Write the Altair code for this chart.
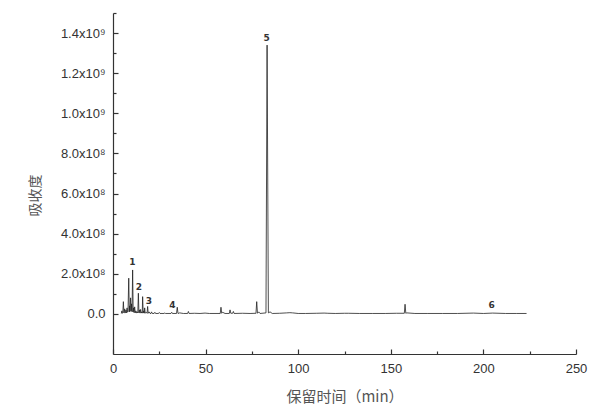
import altair as alt
import pandas as pd

# Retention time (min) and signal (units of 1e8)
rt_min = [
    4.5, 4.8, 5.0, 5.3, 5.6, 5.9, 6.1, 6.3, 6.5, 6.8,
    7.0, 7.2, 7.4, 7.6, 7.8, 8.1, 8.5, 8.8, 9.0, 9.2,
    9.5, 9.8, 10.0, 10.3, 10.6, 10.9, 11.1, 11.4, 11.7, 12.0,
    12.4, 12.7, 13.1, 13.4, 13.7, 14.0, 14.3, 14.6, 14.9, 15.2,
    15.5, 15.8, 16.0, 16.3, 16.6, 16.9, 17.1, 17.4, 17.9, 18.4,
    18.7, 19.0, 19.5, 20.0, 20.5, 20.8, 21.2, 22.2, 22.6, 23.0,
    24.6, 25.0, 25.4, 27.6, 28.0, 28.4, 31.3, 31.7, 32.1, 34.3,
    34.7, 35.1, 36.0, 38.0, 40.3, 40.7, 41.1, 44.0, 47.0, 49.7,
    52.0, 57.9, 58.3, 58.7, 59.2, 60.5, 62.8, 63.2, 63.6, 64.6,
    65.0, 65.4, 70.0, 74.0, 77.2, 77.6, 78.0, 78.7, 79.4, 82.6,
    83.2, 83.9, 84.8, 86.0, 90.0, 93.8, 95.5, 97.0, 100.0, 104.0,
    110.0, 114.0, 116.0, 120.0, 125.0, 127.0, 133.0, 140.0, 147.0, 153.0,
    157.3, 157.7, 158.1, 158.6, 163.0, 170.0, 178.0, 186.0, 194.6, 200.0,
    205.0, 212.0, 218.0, 223.3,
]
signal_e8 = [
    0.02, 0.15, 0.03, 0.05, 0.61, 0.05, 0.12, 0.25, 0.04, 0.08,
    0.20, 0.05, 0.10, 0.30, 0.08, 0.12, 1.78, 0.10, 0.40, 0.12,
    0.80, 0.15, 0.50, 0.10, 2.19, 0.10, 0.30, 0.06, 0.35, 0.05,
    0.15, 0.04, 0.10, 0.05, 1.03, 0.05, 0.20, 0.04, 0.22, 0.04,
    0.10, 0.04, 0.86, 0.04, 0.15, 0.04, 0.30, 0.03, 0.08, 0.03,
    0.37, 0.03, 0.10, 0.02, 0.02, 0.10, 0.02, 0.02, 0.08, 0.02,
    0.02, 0.07, 0.02, 0.02, 0.05, 0.02, 0.02, 0.08, 0.02, 0.02,
    0.33, 0.02, 0.05, 0.02, 0.02, 0.12, 0.02, 0.03, 0.02, 0.04,
    0.02, 0.02, 0.33, 0.03, 0.08, 0.02, 0.02, 0.20, 0.03, 0.03,
    0.12, 0.02, 0.03, 0.02, 0.03, 0.61, 0.03, 0.10, 0.02, 0.05,
    13.4, 0.05, 0.10, 0.02, 0.03, 0.05, 0.06, 0.05, 0.02, 0.02,
    0.03, 0.04, 0.03, 0.02, 0.03, 0.03, 0.02, 0.02, 0.02, 0.03,
    0.03, 0.48, 0.03, 0.05, 0.02, 0.02, 0.02, 0.02, 0.04, 0.02,
    0.04, 0.02, 0.02, 0.02,
]

# Peak labels
peak_names = ["1", "2", "3", "4", "5", "6"]
peak_label_rt = [10.4, 14.0, 19.4, 32.0, 83.0, 204.4]
peak_label_e8 = [2.61, 1.35, 0.65, 0.45, 13.77, 0.45]

x_major = [0, 50, 100, 150, 200, 250]
x_minor = [25, 75, 125, 175, 225]
y_major_e8 = [0, 2, 4, 6, 8, 10, 12, 14]
y_minor_e8 = [1, 3, 5, 7, 9, 11, 13, 15]

E8 = 1e8
trace = pd.DataFrame({"rt": rt_min, "sig": [v * E8 for v in signal_e8]})
labels = pd.DataFrame({"rt": peak_label_rt, "sig": [v * E8 for v in peak_label_e8], "name": peak_names})

W, H = 463, 341
xscale = alt.Scale(domain=[0, 250], nice=False, zero=False)
yscale = alt.Scale(domain=[-2e8, 1.5e9], nice=False, zero=False)

font = "Liberation Sans"
cjk = "Noto Sans CJK SC"
axis_col = "#333333"

ylabel_expr = ("datum.value == 0 ? '0.0' : (datum.value >= 1e9 ? "
               "format(datum.value/1e9, '.1f') + 'x10⁹' : "
               "format(datum.value/1e8, '.1f') + 'x10⁸')")

line = alt.Chart(trace).mark_line(color="#222222", strokeWidth=0.8).encode(
    x=alt.X("rt:Q", scale=xscale, axis=alt.Axis(
        orient="bottom", values=x_major, ticks=False, grid=False,
        domainColor=axis_col, domainWidth=1.2,
        labelFont=font, labelFontSize=13, labelColor=axis_col, labelPadding=8,
        labelFlush=False, labelOverlap=False,
        title="保留时间（min）", titleFont=cjk, titleFontSize=15, titleFontWeight="normal",
        titleColor="#555555", titleY=42, titleBaseline="middle")),
    y=alt.Y("sig:Q", scale=yscale, axis=alt.Axis(
        orient="left", values=[v * E8 for v in y_major_e8], ticks=False, grid=False,
        domainColor=axis_col, domainWidth=1.2,
        labelExpr=ylabel_expr, labelFont=font, labelFontSize=13, labelColor=axis_col,
        labelPadding=8, labelFlush=False, labelOverlap=False,
        title="吸收度", titleFont=cjk, titleFontSize=14, titleFontWeight="normal",
        titleColor="#555555", titleX=-78, titleY=182, titleAngle=-90,
        titleAlign="center", titleBaseline="middle")),
)


def tick_axes(chart, xvals, yvals, size):
    return chart.encode(
        x=alt.X("rt:Q", scale=xscale, axis=alt.Axis(
            orient="top", offset=-H, values=xvals, labels=False, domain=False,
            grid=False, title=None, ticks=True, tickColor=axis_col, tickWidth=1.2,
            tickSize=size)),
        y=alt.Y("sig:Q", scale=yscale, axis=alt.Axis(
            orient="right", offset=-W, values=[v * E8 for v in yvals], labels=False,
            domain=False, grid=False, title=None, ticks=True, tickColor=axis_col,
            tickWidth=1.2, tickSize=size)),
    )


text = tick_axes(alt.Chart(labels).mark_text(
    font="DejaVu Sans", fontSize=9, fontWeight="bold", color="#333333",
    baseline="middle", align="center"), x_major, y_major_e8, 5).encode(text="name:N")

minor = tick_axes(alt.Chart(labels).mark_point(opacity=0), x_minor, y_minor_e8, 3)

chart = alt.layer(line, text, minor).resolve_scale(
    x="independent", y="independent"
).resolve_axis(
    x="independent", y="independent"
).properties(
    width=W, height=H,
    background="white",
    autosize=alt.AutoSizeParams(type="none"),
    padding={"left": 105, "top": 5, "right": 28, "bottom": 56},
).configure_view(strokeWidth=0, stroke=None)

chart.save("out.html", embed_options={"renderer": "svg", "actions": False})
